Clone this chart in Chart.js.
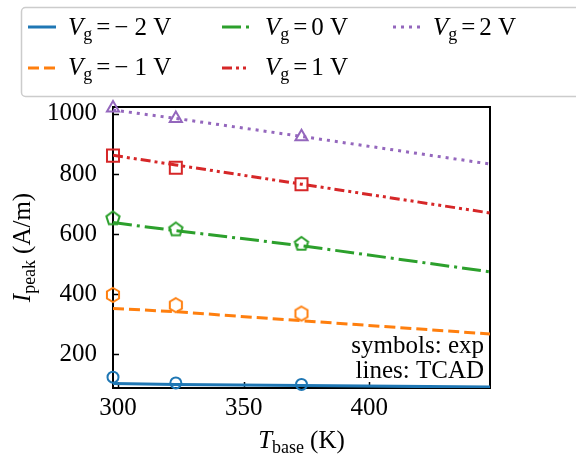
<!DOCTYPE html>
<html>
<head>
<meta charset="utf-8">
<script src="https://cdn.jsdelivr.net/npm/chart.js@4/dist/chart.umd.min.js"></script>
<style>
  html, body { margin: 0; padding: 0; background: #fff; }
  #wrap { width: 576px; height: 462px; }
</style>
</head>
<body>
<div id="wrap"><canvas id="peakChart" width="576" height="462"></canvas></div>
<script>
// datos
const tempTcad = [298, 323, 373, 448];
const tempExp = [298, 323, 373];
const gateLabels = ['\u22122', '\u22121', '0', '1', '2'];

const tcadVgM2 = [102, 99, 95, 90];
const tcadVgM1 = [352, 341, 311, 267];
const tcadVg0 = [638, 611, 561, 474];
const tcadVgP1 = [862, 830, 766, 670];
const tcadVgP2 = [1013, 985, 925, 833];

const expVgM2 = [123, 104, 99];
const expVgM1 = [397, 363, 335];
const expVg0 = [652, 615, 567];
const expVgP1 = [861, 821, 766];
const expVgP2 = [1020, 985, 924];

const xTicks = [300, 350, 400];
const yTicks = [200, 400, 600, 800, 1000];

const colors = ['#1f77b4', '#ff7f0e', '#2ca02c', '#d62728', '#9467bd'];
const dashes = [[], [11, 5], [19, 5, 3, 5], [10, 4, 3, 4, 3, 4], [3, 5]];
const SERIF = '"Liberation Serif", "Times New Roman", serif';

// marcador poligonal (pentagono / hexagono) como canvas
function polyMarker(sides, r, color) {
    var size = Math.ceil(2 * r + 4);
    var c = document.createElement('canvas');
    c.width = size; c.height = size;
    var g = c.getContext('2d');
    g.strokeStyle = color;
    g.lineWidth = 2;
    g.beginPath();
    for (var i = 0; i < sides; i++) {
        var a = -Math.PI / 2 + i * 2 * Math.PI / sides;
        g.lineTo(size / 2 + r * Math.cos(a), size / 2 + r * Math.sin(a));
    }
    g.closePath();
    g.stroke();
    return c;
}

const markers = ['circle', polyMarker(6, 7, colors[1]), polyMarker(5, 7, colors[2]), 'rect', 'triangle'];
const markerRadius = [5.5, 7, 7, 8.5, 7];

function pairs(xs, ys) {
    return ys.map((y, i) => ({ x: xs[i], y: y }));
}

const tcadSeries = [tcadVgM2, tcadVgM1, tcadVg0, tcadVgP1, tcadVgP2];
const expSeries = [expVgM2, expVgM1, expVg0, expVgP1, expVgP2];

const datasets = [];
tcadSeries.forEach((ys, i) => {
    datasets.push({
        label: 'tcad ' + gateLabels[i],
        data: pairs(tempTcad, ys),
        borderColor: colors[i],
        borderWidth: 3,
        borderDash: dashes[i],
        pointRadius: 0,
        fill: false,
        tension: 0
    });
});
expSeries.forEach((ys, i) => {
    datasets.push({
        label: 'exp ' + gateLabels[i],
        data: pairs(tempExp, ys),
        showLine: false,
        borderColor: colors[i],
        backgroundColor: 'rgba(0,0,0,0)',
        borderWidth: 2,
        pointStyle: markers[i],
        pointRadius: markerRadius[i],
        clip: false
    });
});

// texto tipo mathtext: piezas en cursiva, subindice, espacios
function fontFor(p) {
    if (p.sub) return '18px ' + SERIF;
    return (p.italic ? 'italic ' : '') + '25px ' + SERIF;
}
function mathWidth(ctx, pieces) {
    var w = 0;
    pieces.forEach(p => {
        if (p.gap) { w += p.gap; return; }
        ctx.font = fontFor(p);
        w += ctx.measureText(p.t).width;
    });
    return w;
}
function drawMath(ctx, pieces, x, y, align) {
    var w = mathWidth(ctx, pieces);
    var cx = align === 'center' ? x - w / 2 : x;
    ctx.textAlign = 'left';
    ctx.textBaseline = 'alphabetic';
    ctx.fillStyle = '#000';
    pieces.forEach(p => {
        if (p.gap) { cx += p.gap; return; }
        ctx.font = fontFor(p);
        ctx.fillText(p.t, cx, p.sub ? y + 5 : y);
        cx += ctx.measureText(p.t).width;
    });
}
function gatePieces(v) {
    var pcs = [{ t: 'V', italic: true }, { t: 'g', sub: true }, { gap: 4 }, { t: '=' }, { gap: 4 }];
    if (v.charAt(0) === '\u2212') {
        pcs.push({ t: '\u2212' }, { gap: 6 }, { t: v.slice(1) + ' V' });
    } else {
        pcs.push({ t: v + ' V' });
    }
    return pcs;
}

const extrasPlugin = {
    id: 'extras',
    beforeDatasetsDraw(chart) {
        const ctx = chart.ctx;
        const a = chart.chartArea;
        const xs = chart.scales.x, ys = chart.scales.y;
        ctx.save();
        ctx.strokeStyle = '#000';
        ctx.lineWidth = 1.5;
        // ticks hacia adentro
        xTicks.forEach(t => {
            var px = Math.round(xs.getPixelForValue(t)) + 0.5;
            ctx.beginPath(); ctx.moveTo(px, a.bottom); ctx.lineTo(px, a.bottom - 6); ctx.stroke();
        });
        yTicks.forEach(t => {
            var py = Math.round(ys.getPixelForValue(t)) + 0.5;
            ctx.beginPath(); ctx.moveTo(a.left, py); ctx.lineTo(a.left + 6, py); ctx.stroke();
        });
        ctx.lineWidth = 2;
        ctx.strokeRect(a.left, a.top, a.right - a.left, a.bottom - a.top);

        // nota en la esquina
        ctx.font = '25px ' + SERIF;
        ctx.fillStyle = '#000';
        ctx.textAlign = 'right';
        ctx.textBaseline = 'alphabetic';
        ctx.fillText('symbols: exp', a.right - 6, 353);
        ctx.fillText('lines: TCAD', a.right - 6, 378);
        ctx.restore();
    },
    afterDraw(chart) {
        const ctx = chart.ctx;
        const a = chart.chartArea;
        ctx.save();
        // titulos de ejes
        drawMath(ctx, [{ t: 'T', italic: true }, { t: 'base', sub: true }, { gap: 6 }, { t: '(K)' }],
            (a.left + a.right) / 2, 448, 'center');
        ctx.translate(30, (a.top + a.bottom) / 2);
        ctx.rotate(-Math.PI / 2);
        drawMath(ctx, [{ t: 'I', italic: true }, { t: 'peak', sub: true }, { gap: 6 }, { t: '(A/m)' }],
            0, 0, 'center');
        ctx.restore();

        // leyenda
        ctx.save();
        ctx.fillStyle = 'rgba(255,255,255,0.8)';
        ctx.strokeStyle = '#cccccc';
        ctx.lineWidth = 1.5;
        ctx.beginPath();
        ctx.roundRect(21.5, 7.5, 580, 89, 4);
        ctx.fill();
        ctx.stroke();
        const cols = [{ h: 28, t: 68 }, { h: 222, t: 265 }, { h: 393, t: 433 }];
        const rows = [{ h: 27, t: 35 }, { h: 68, t: 75 }];
        gateLabels.forEach((v, i) => {
            var col = cols[Math.floor(i / 2)];
            var row = rows[i % 2];
            ctx.strokeStyle = colors[i];
            ctx.lineWidth = 3;
            ctx.setLineDash(dashes[i]);
            ctx.beginPath();
            ctx.moveTo(col.h, row.h);
            ctx.lineTo(col.h + 28, row.h);
            ctx.stroke();
            ctx.setLineDash([]);
            drawMath(ctx, gatePieces(v), col.t, row.t, 'left');
        });
        ctx.restore();
    }
};

const tickFont = { family: SERIF, size: 25 };

new Chart(document.getElementById('peakChart').getContext('2d'), {
    type: 'line',
    data: { datasets: datasets },
    options: {
        responsive: false,
        animation: false,
        devicePixelRatio: 1,
        layout: { padding: { left: 0, right: 86, top: 107, bottom: 0 } },
        plugins: { legend: { display: false }, tooltip: { enabled: false } },
        scales: {
            x: {
                type: 'linear',
                min: 298,
                max: 448,
                grid: { display: false, drawTicks: false },
                border: { display: false },
                afterBuildTicks: s => { s.ticks = xTicks.map(v => ({ value: v })); },
                afterFit: s => { s.height = 74; },
                ticks: { color: '#000', font: tickFont, padding: 5, maxRotation: 0, callback: v => String(v) }
            },
            y: {
                type: 'linear',
                min: 87,
                max: 1023,
                grid: { display: false, drawTicks: false },
                border: { display: false },
                afterBuildTicks: s => { s.ticks = yTicks.map(v => ({ value: v })); },
                afterFit: s => { s.width = 113; },
                ticks: { color: '#000', font: tickFont, padding: 16, callback: v => String(v) }
            }
        }
    },
    plugins: [extrasPlugin]
});
</script>
</body>
</html>
